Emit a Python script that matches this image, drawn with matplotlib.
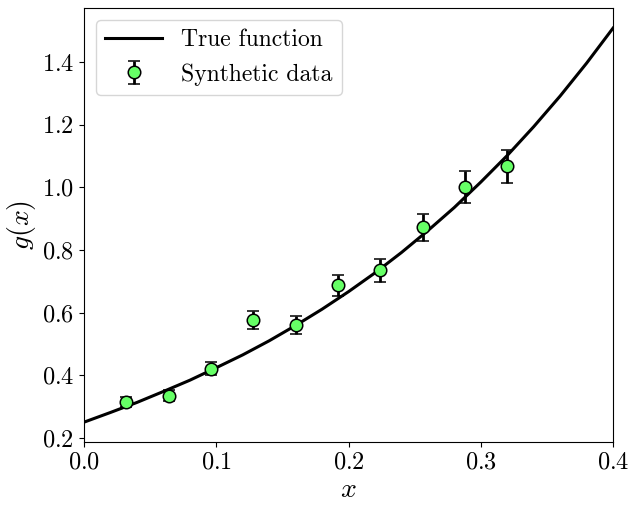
import matplotlib
matplotlib.use("Agg")
import matplotlib.pyplot as plt

plt.rcParams['font.family'] = 'serif'
plt.rcParams['font.serif'] = ['cmr10']
plt.rcParams['mathtext.fontset'] = 'cm'
plt.rcParams['axes.formatter.use_mathtext'] = True
plt.rcParams['axes.unicode_minus'] = False

# True function curve
curve_x = [0.00, 0.02, 0.04, 0.06, 0.08, 0.10, 0.12, 0.14, 0.16, 0.18, 0.20,
           0.22, 0.24, 0.26, 0.28, 0.30, 0.32, 0.34, 0.36, 0.38, 0.40]
curve_y = [0.250, 0.281, 0.313, 0.348, 0.384, 0.424, 0.465, 0.510, 0.559, 0.611, 0.667,
           0.727, 0.792, 0.862, 0.936, 1.017, 1.102, 1.194, 1.292, 1.397, 1.509]

# Synthetic data
data_x = [0.032, 0.064, 0.096, 0.128, 0.160, 0.192, 0.224, 0.256, 0.288, 0.320]
data_y = [0.315, 0.335, 0.421, 0.576, 0.561, 0.687, 0.735, 0.872, 1.001, 1.068]
data_err = [0.016, 0.017, 0.021, 0.029, 0.028, 0.034, 0.037, 0.044, 0.050, 0.053]

fig, ax = plt.subplots(figsize=(6.32, 5.05), dpi=100)
ax.plot(curve_x, curve_y, color='black', lw=2.2, label='True function')
ax.errorbar(data_x, data_y, yerr=data_err, fmt='o', color='black',
            markerfacecolor='#66ff66', markeredgecolor='black', markersize=9,
            markeredgewidth=1.1, ecolor='black', elinewidth=2, capsize=4.5, capthick=2,
            label='Synthetic data')
ax.set_xlim(0, 0.4)
ax.set_ylim(0.187, 1.573)
ax.set_xticks([0.0, 0.1, 0.2, 0.3, 0.4])
ax.set_yticks([0.2, 0.4, 0.6, 0.8, 1.0, 1.2, 1.4])
ax.tick_params(labelsize=17.5)
ax.set_xlabel('$x$', fontsize=20, labelpad=2)
ax.set_ylabel('$g(x)$', fontsize=20, labelpad=3)
ax.legend(loc='upper left', fontsize=17, handlelength=2.4)
fig.subplots_adjust(left=0.133, right=0.97, top=0.984, bottom=0.125)
fig.savefig('out.png', dpi=100)
